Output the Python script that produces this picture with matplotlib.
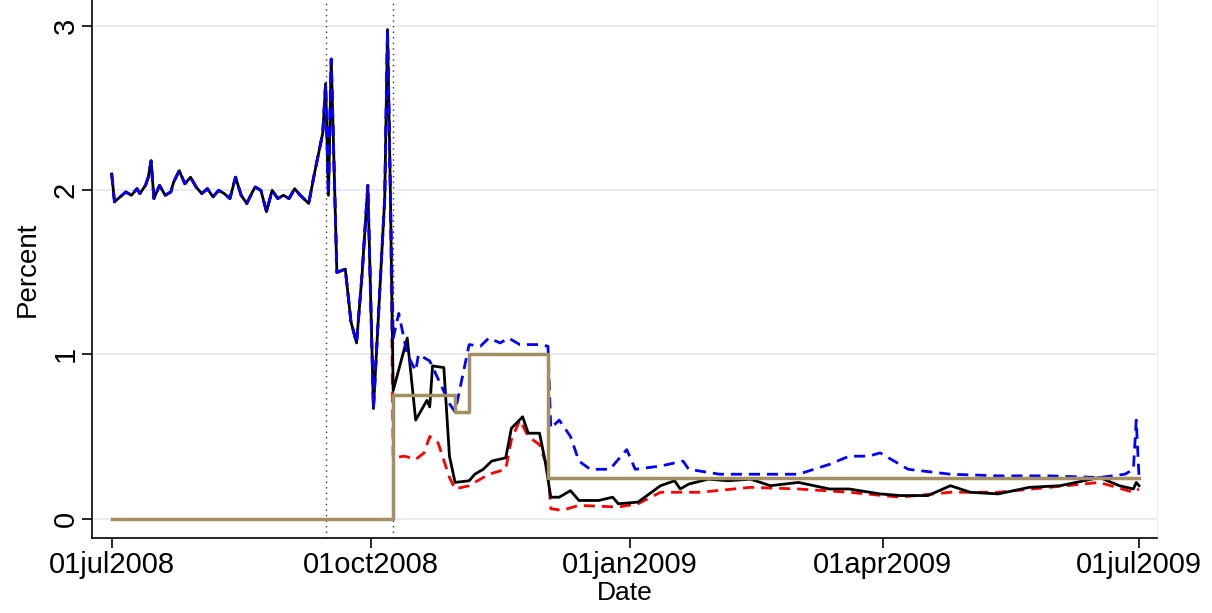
import numpy as np
import matplotlib.pyplot as plt

plt.rcParams['font.family'] = ['Liberation Sans', 'DejaVu Sans']

# day offsets from 01jul2008
pre_days = [0, 1, 3, 5, 7, 9, 10, 12, 13, 14, 15, 17, 19, 21, 22, 24, 26, 28, 30, 32, 34, 36, 38, 40,
            42, 44, 46, 48, 50, 51, 53, 55, 57, 59, 61, 63, 65, 67, 70, 72, 75, 76, 77, 78, 80, 83, 85,
            87, 89, 91, 93, 97, 98, 99]
pre_vals = [2.1, 1.93, 1.96, 1.99, 1.97, 2.01, 1.98, 2.03, 2.08, 2.18, 1.95, 2.03, 1.97, 1.99, 2.05,
            2.12, 2.04, 2.08, 2.02, 1.98, 2.01, 1.96, 2.0, 1.98, 1.95, 2.08, 1.97, 1.92, 1.99, 2.02,
            2.0, 1.87, 2.0, 1.95, 1.97, 1.95, 2.01, 1.97, 1.92, 2.1, 2.35, 2.65, 1.97, 2.8, 1.5, 1.52,
            1.2, 1.07, 1.5, 2.03, 0.67, 1.95, 2.98, 2.0]

post_days = [100, 105, 108, 112, 113, 114, 118, 120, 122, 127, 129, 132, 135, 140, 142, 146, 148, 152,
             154, 156, 159, 163, 166, 173, 178, 180, 187, 195, 200, 202, 205, 212, 219, 227, 234, 244,
             255, 262, 273, 280, 290, 298, 305, 315, 326, 337, 351, 358, 363, 364, 365]
post_vals = [0.78, 1.1, 0.6, 0.72, 0.68, 0.93, 0.92, 0.38, 0.22, 0.23, 0.27, 0.3, 0.35, 0.37, 0.55,
             0.62, 0.52, 0.52, 0.35, 0.13, 0.13, 0.17, 0.11, 0.11, 0.13, 0.09, 0.1, 0.2, 0.23, 0.18,
             0.21, 0.24, 0.23, 0.24, 0.2, 0.22, 0.18, 0.18, 0.15, 0.14, 0.14, 0.2, 0.16, 0.15, 0.19,
             0.2, 0.25, 0.2, 0.18, 0.22, 0.2]

upper_days = [100, 102, 105, 108, 109, 113, 116, 120, 122, 127, 131, 134, 138, 141, 145, 152, 155, 156,
              159, 163, 166, 170, 177, 183, 186, 195, 203, 205, 216, 230, 244, 255, 262, 269, 273, 278,
              283, 298, 315, 333, 351, 360, 363, 364, 365]
upper_vals = [1.1, 1.25, 1.0, 0.9, 1.0, 0.96, 0.85, 0.7, 0.65, 1.06, 1.05, 1.1, 1.07, 1.1, 1.06, 1.06,
              1.05, 0.55, 0.6, 0.5, 0.35, 0.3, 0.3, 0.42, 0.3, 0.32, 0.35, 0.3, 0.27, 0.27, 0.27, 0.33,
              0.38, 0.38, 0.4, 0.35, 0.3, 0.27, 0.26, 0.26, 0.25, 0.27, 0.3, 0.6, 0.25]

lower_days = [100, 104, 108, 111, 113, 116, 120, 122, 127, 134, 140, 142, 145, 148, 152, 155, 156, 160,
              166, 180, 187, 195, 209, 227, 244, 262, 280, 298, 315, 333, 351, 363, 365]
lower_vals = [0.37, 0.38, 0.36, 0.4, 0.5, 0.46, 0.25, 0.18, 0.2, 0.27, 0.3, 0.48, 0.6, 0.5, 0.45, 0.3,
              0.06, 0.05, 0.08, 0.07, 0.09, 0.16, 0.16, 0.19, 0.18, 0.16, 0.13, 0.16, 0.16, 0.19, 0.22,
              0.16, 0.18]

step_days = [0, 100, 122, 127, 155, 365]
step_vals = [0, 0.75, 0.65, 1.0, 0.25, 0.25]

event_days = [76, 100]
tick_days = [0, 92, 184, 274, 365]
tick_labels = ["01jul2008", "01oct2008", "01jan2009", "01apr2009", "01jul2009"]

fig = plt.figure(figsize=(12.12, 6.13), dpi=100)
ax = fig.add_axes([0.0759, 0.122, 0.879, 0.878])

for y in [0, 1, 2, 3]:
    ax.axhline(y, color="#e6edf1", lw=1.5, zorder=0)
for d in event_days:
    ax.axvline(d, color="#333333", lw=1, ls=(0, (1, 3)), zorder=1)

black_d = pre_days + post_days
black_v = pre_vals + post_vals
blue_d = pre_days + upper_days
blue_v = pre_vals + upper_vals
red_d = pre_days + lower_days
red_v = pre_vals + lower_vals

ax.plot(red_d, red_v, color="red", lw=2, ls=(0, (4, 2.5)), zorder=2)
ax.plot(black_d, black_v, color="black", lw=2, zorder=3)
ax.plot(blue_d, blue_v, color="blue", lw=2, ls=(0, (4, 2.5)), zorder=4)
ax.step(step_days, step_vals, where="post", color="#a38f5f", lw=2.5, zorder=5)

ax.set_xlim(-7, 371.5)
ax.set_ylim(-0.12, 3.16)
ax.set_xticks(tick_days)
ax.set_xticklabels(tick_labels, fontsize=21)
ax.set_yticks([0, 1, 2, 3])
ax.set_yticklabels(["0", "1", "2", "3"], fontsize=21, rotation=90, va="center")
ax.tick_params(length=7, width=1.2, pad=2)
ax.set_xlabel("Date", fontsize=19, labelpad=2)
ax.set_ylabel("Percent", fontsize=20, labelpad=8)
ax.spines["top"].set_visible(False)
ax.spines["left"].set_linewidth(1.2)
ax.spines["bottom"].set_linewidth(1.2)
ax.spines["right"].set_color("#eeeeee")

fig.savefig("out.png", dpi=100)
